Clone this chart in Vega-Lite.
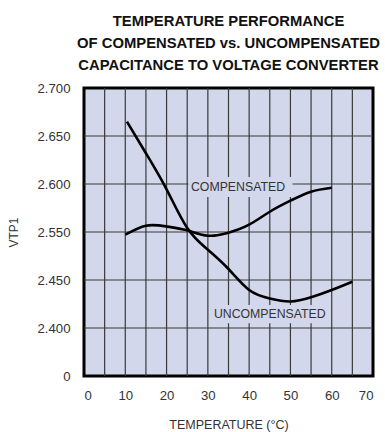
{
  "$schema": "https://vega.github.io/schema/vega-lite/v6.json",
  "width": 289,
  "height": 288,
  "autosize": {"type": "none"},
  "padding": {"left": 84, "top": 88, "right": 12, "bottom": 56},
  "background": "#ffffff",
  "title": {
    "text": ["TEMPERATURE PERFORMANCE", "OF COMPENSATED vs. UNCOMPENSATED", "CAPACITANCE TO VOLTAGE CONVERTER"],
    "font": "Liberation Sans",
    "fontSize": 14.8,
    "fontWeight": "bold",
    "color": "#111111",
    "anchor": "middle",
    "lineHeight": 22,
    "offset": 8
  },
  "datasets": {
    "curves": [
      {"series": "COMPENSATED", "temp": 10, "v": 2.5444},
      {"series": "COMPENSATED", "temp": 15, "v": 2.5566},
      {"series": "COMPENSATED", "temp": 20, "v": 2.5558},
      {"series": "COMPENSATED", "temp": 25, "v": 2.5517},
      {"series": "COMPENSATED", "temp": 30, "v": 2.5423},
      {"series": "COMPENSATED", "temp": 35, "v": 2.5485},
      {"series": "COMPENSATED", "temp": 40, "v": 2.5576},
      {"series": "COMPENSATED", "temp": 45, "v": 2.5711},
      {"series": "COMPENSATED", "temp": 50, "v": 2.5826},
      {"series": "COMPENSATED", "temp": 55, "v": 2.592},
      {"series": "COMPENSATED", "temp": 60, "v": 2.5961},
      {"series": "UNCOMPENSATED", "temp": 10.4, "v": 2.6649},
      {"series": "UNCOMPENSATED", "temp": 15, "v": 2.632},
      {"series": "UNCOMPENSATED", "temp": 20, "v": 2.5945},
      {"series": "UNCOMPENSATED", "temp": 25, "v": 2.5542},
      {"series": "UNCOMPENSATED", "temp": 30, "v": 2.5131},
      {"series": "UNCOMPENSATED", "temp": 35, "v": 2.4729},
      {"series": "UNCOMPENSATED", "temp": 40, "v": 2.4396},
      {"series": "UNCOMPENSATED", "temp": 45, "v": 2.4307},
      {"series": "UNCOMPENSATED", "temp": 50, "v": 2.4276},
      {"series": "UNCOMPENSATED", "temp": 55, "v": 2.432},
      {"series": "UNCOMPENSATED", "temp": 60, "v": 2.4396},
      {"series": "UNCOMPENSATED", "temp": 65, "v": 2.4483}
    ],
    "labels": [
      {"label": "COMPENSATED", "tx": 37.3, "ty": 2.5969, "bx1": 25.3, "bx2": 50.5, "by1": 2.5865, "by2": 2.6073},
      {"label": "UNCOMPENSATED", "tx": 45.0, "ty": 2.4146, "bx1": 31.5, "bx2": 58.5, "by1": 2.405, "by2": 2.424}
    ],
    "xgrid": [
      {"t": 5}, {"t": 10}, {"t": 15}, {"t": 20}, {"t": 25}, {"t": 30}, {"t": 35},
      {"t": 40}, {"t": 45}, {"t": 50}, {"t": 55}, {"t": 60}, {"t": 65}
    ],
    "ygrid": [
      {"level": 2.4}, {"level": 2.45}, {"level": 2.55}, {"level": 2.6}, {"level": 2.65}
    ]
  },
  "layer": [
    {
      "data": {"name": "xgrid"},
      "mark": {"type": "rule", "color": "#3a3a3a", "strokeWidth": 1.2},
      "encoding": {
        "x": {"field": "t", "type": "quantitative", "scale": {"domain": [0, 70], "nice": false, "zero": false}}
      }
    },
    {
      "data": {"name": "ygrid"},
      "mark": {"type": "rule", "color": "#3a3a3a", "strokeWidth": 1.2},
      "encoding": {
        "y": {"field": "level", "type": "quantitative", "scale": {"domain": [0, 2.4, 2.45, 2.55, 2.6, 2.65, 2.7], "range": [288, 240, 192, 144, 96, 48, 0], "nice": false, "zero": false}}
      }
    },
    {
      "data": {"name": "labels"},
      "mark": {"type": "rect", "fill": "#d3d7eb"},
      "encoding": {
        "x": {"field": "bx1", "type": "quantitative", "scale": {"domain": [0, 70], "nice": false, "zero": false}},
        "x2": {"field": "bx2"},
        "y": {"field": "by1", "type": "quantitative", "scale": {"domain": [0, 2.4, 2.45, 2.55, 2.6, 2.65, 2.7], "range": [288, 240, 192, 144, 96, 48, 0], "nice": false, "zero": false}},
        "y2": {"field": "by2"}
      }
    },
    {
      "data": {"name": "curves"},
      "mark": {"type": "line", "color": "#000000", "strokeWidth": 2.6, "interpolate": "natural"},
      "encoding": {
        "x": {
          "field": "temp", "type": "quantitative",
          "scale": {"domain": [0, 70], "nice": false, "zero": false},
          "axis": {
            "title": "TEMPERATURE (°C)",
            "values": [0, 10, 20, 30, 40, 50, 60, 70],
            "labelPadding": 13,
            "titlePadding": 17,
            "titleFontSize": 12.5,
            "grid": false
          }
        },
        "y": {
          "field": "v", "type": "quantitative",
          "scale": {"domain": [0, 2.4, 2.45, 2.55, 2.6, 2.65, 2.7], "range": [288, 240, 192, 144, 96, 48, 0], "nice": false, "zero": false},
          "axis": {
            "title": "VTP1",
            "values": [0, 2.4, 2.45, 2.55, 2.6, 2.65, 2.7],
            "labelExpr": "datum.value === 0 ? '0' : format(datum.value, '.3f')",
            "labelPadding": 14,
            "titlePadding": 16,
            "titleFontSize": 12,
            "grid": false
          }
        },
        "detail": {"field": "series"}
      }
    },
    {
      "data": {"name": "labels"},
      "mark": {"type": "text", "font": "Liberation Sans", "fontSize": 12.3, "color": "#333333", "align": "center", "baseline": "middle"},
      "encoding": {
        "x": {"field": "tx", "type": "quantitative", "scale": {"domain": [0, 70], "nice": false, "zero": false}},
        "y": {"field": "ty", "type": "quantitative", "scale": {"domain": [0, 2.4, 2.45, 2.55, 2.6, 2.65, 2.7], "range": [288, 240, 192, 144, 96, 48, 0], "nice": false, "zero": false}},
        "text": {"field": "label"}
      }
    }
  ],
  "config": {
    "view": {"fill": "#d3d7eb", "stroke": "#000000", "strokeWidth": 3},
    "axis": {
      "domain": false,
      "tickSize": 0,
      "labelFont": "Liberation Sans",
      "labelFontSize": 13.2,
      "labelColor": "#333333",
      "titleFont": "Liberation Sans",
      "titleFontWeight": "normal",
      "titleColor": "#333333"
    }
  }
}
